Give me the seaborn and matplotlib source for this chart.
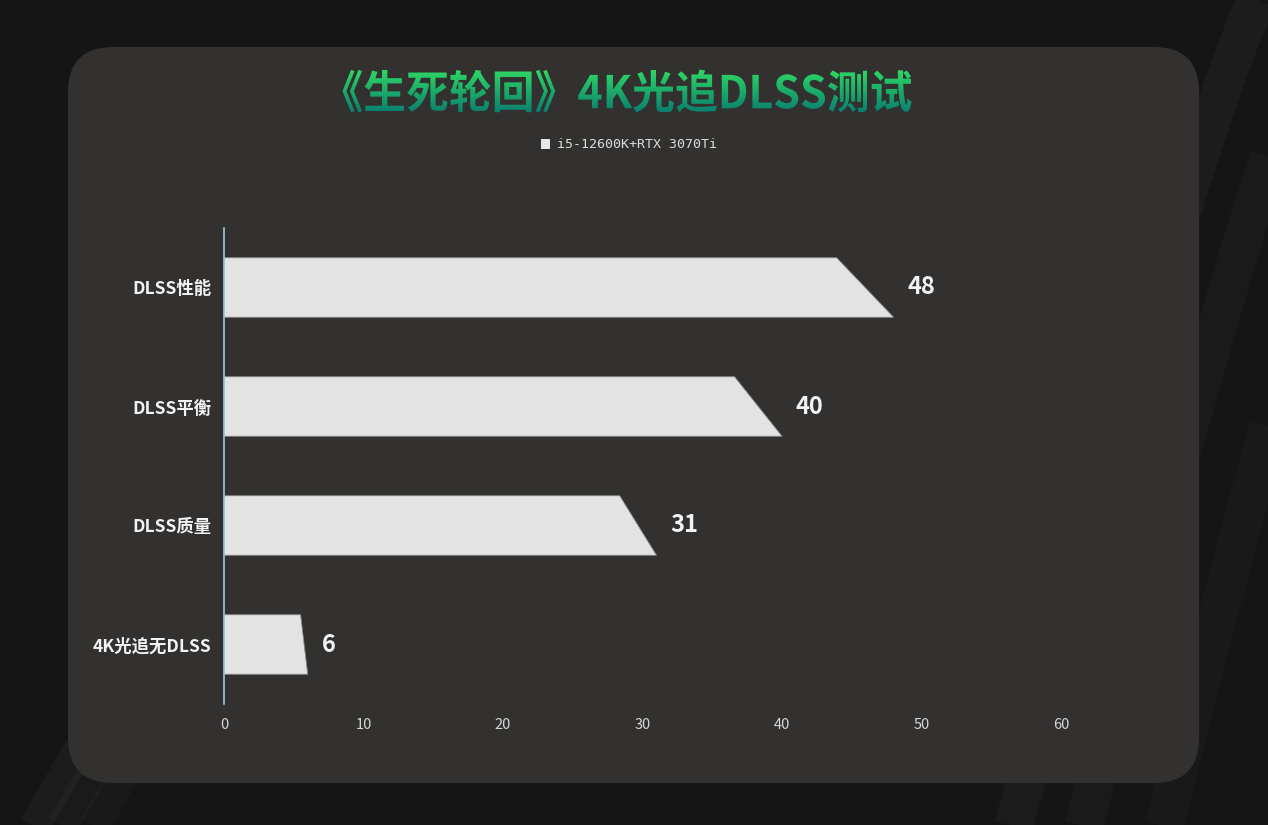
import matplotlib
matplotlib.use('Agg')
import numpy as np
import matplotlib.pyplot as plt
import seaborn as sns
from matplotlib.patches import FancyBboxPatch, Polygon, PathPatch, Patch
from matplotlib.textpath import TextPath
from matplotlib.font_manager import FontProperties
from matplotlib.transforms import Affine2D

categories = ["DLSS性能", "DLSS平衡", "DLSS质量", "4K光追无DLSS"]
fps = [48, 40, 31, 6]
x_ticks = [0, 10, 20, 30, 40, 50, 60]
title = "《生死轮回》4K光追DLSS测试"
series_name = "i5-12600K+RTX 3070Ti"

plt.rcParams['font.family'] = ['Noto Sans CJK SC', 'DejaVu Sans']

W, H = 1268, 825
fig = plt.figure(figsize=(W / 100, H / 100), dpi=100)
fig.patch.set_facecolor('#151515')

# background layer in pixel units
bg = fig.add_axes([0, 0, 1, 1])
bg.set_xlim(0, W)
bg.set_ylim(H, 0)
bg.axis('off')
bg.set_zorder(-1)

# faint swooshes behind the card
t = np.linspace(0, 1, 60)
for off, a in [(0, 0.03), (70, 0.022), (150, 0.018)]:
    bg.plot(1268 - 260 * t + off, -20 + 870 * t ** 1.2, color='white', alpha=a,
            lw=28, solid_capstyle='butt', zorder=0.5)
    bg.plot(190 - 170 * t + off * 0.4, 560 + 290 * t, color='white', alpha=a,
            lw=22, solid_capstyle='butt', zorder=0.5)

card = FancyBboxPatch((68, 47), 1131, 736, boxstyle='round,pad=0,rounding_size=45',
                      facecolor='#32312f', edgecolor='none', zorder=1)
bg.add_patch(card)

# gradient title
fp = FontProperties(family='Noto Sans CJK SC', weight='black')
tp = TextPath((0, 0), title, size=100, prop=fp)
ext = tp.get_extents()
s = 569 / ext.width
cx, cy = 627, 91
tx = cx - (ext.x0 + ext.width / 2) * s
ty = cy + (ext.y0 + ext.height / 2) * s * 1.05
path = Affine2D().scale(s, -s * 1.05).translate(tx, ty).transform_path(tp)
tpatch = PathPatch(path, facecolor='none', edgecolor='none', transform=bg.transData, zorder=2)
bg.add_patch(tpatch)
grad = np.linspace(0, 1, 256).reshape(-1, 1)
top_c = np.array([0x30, 0xdc, 0x64]) / 255
bot_c = np.array([0x08, 0x7c, 0x70]) / 255
img = top_c[None, None, :] * (1 - grad[:, :, None]) + bot_c[None, None, :] * grad[:, :, None]
im = bg.imshow(img, extent=(330, 930, 114, 68), aspect='auto', interpolation='bilinear', zorder=3)
im.set_clip_path(tpatch)
bg.set_xlim(0, W)
bg.set_ylim(H, 0)

# main chart
ax = fig.add_axes([224 / W, 1 - 704 / H, (1061 - 224) / W, (704 - 228) / H])
ax.patch.set_alpha(0)
sns.barplot(x=fps, y=categories, orient='h', ax=ax, color='#e3e3e3',
            width=0.5, saturation=1)

# turn each bar into a slanted-end shape
for p in list(ax.patches):
    x0, y0, w, h = p.get_x(), p.get_y(), p.get_width(), p.get_height()
    p.remove()
    poly = Polygon([(x0, y0), (x0 + 0.915 * w, y0), (x0 + w, y0 + h), (x0, y0 + h)],
                   closed=True, facecolor='#e3e3e3', edgecolor='#8a8a8a', lw=0.6)
    ax.add_patch(poly)

for i, v in enumerate(fps):
    ax.annotate(str(v), (v, i), xytext=(14, 0), textcoords='offset pixels',
                ha='left', va='center', fontsize=17, fontweight='bold', color='#f2f2f2')

ax.set_xlim(0, 60)
ax.set_ylim(3.5, -0.5)
ax.set_xticks(x_ticks)
ax.set_xlabel('')
ax.set_ylabel('')
for side in ['top', 'right', 'bottom']:
    ax.spines[side].set_visible(False)
ax.spines['left'].set_color('#9cc4d8')
ax.spines['left'].set_linewidth(1.2)
ax.tick_params(axis='x', length=0, pad=10, labelsize=10.5, labelcolor='#d6d6d6')
ax.tick_params(axis='y', length=0, pad=9, labelsize=12.5, labelcolor='#f2f2f2')
for lab in ax.get_yticklabels():
    lab.set_fontweight('bold')
ax.grid(False)

leg = fig.legend(handles=[Patch(facecolor='#e6e6e6', label=series_name)],
                 loc='center', bbox_to_anchor=(629 / W, 1 - 145 / H), frameon=False,
                 handlelength=0.7, handleheight=0.7, handletextpad=0.5,
                 prop=FontProperties(family='DejaVu Sans Mono', size=9.5))
for t in leg.get_texts():
    t.set_color('#dcdcdc')

fig.savefig('out.png', dpi=100, facecolor=fig.get_facecolor())
